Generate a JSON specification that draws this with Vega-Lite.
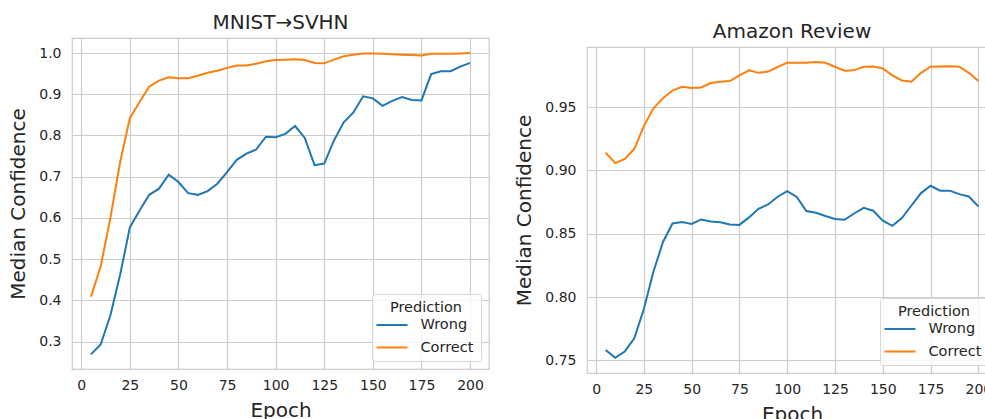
{
  "$schema": "https://vega.github.io/schema/vega-lite/v6.json",
  "padding": {"left": 8, "top": 12, "right": -13, "bottom": 0},
  "background": "white",
  "datasets": {
    "mnist": [
      {"epoch": 5, "pred": "Wrong", "conf": 0.269}, {"epoch": 10, "pred": "Wrong", "conf": 0.293},
      {"epoch": 15, "pred": "Wrong", "conf": 0.364}, {"epoch": 20, "pred": "Wrong", "conf": 0.462},
      {"epoch": 25, "pred": "Wrong", "conf": 0.577}, {"epoch": 30, "pred": "Wrong", "conf": 0.618},
      {"epoch": 35, "pred": "Wrong", "conf": 0.656}, {"epoch": 40, "pred": "Wrong", "conf": 0.671},
      {"epoch": 45, "pred": "Wrong", "conf": 0.705}, {"epoch": 50, "pred": "Wrong", "conf": 0.687},
      {"epoch": 55, "pred": "Wrong", "conf": 0.660}, {"epoch": 60, "pred": "Wrong", "conf": 0.656},
      {"epoch": 65, "pred": "Wrong", "conf": 0.665}, {"epoch": 70, "pred": "Wrong", "conf": 0.683},
      {"epoch": 75, "pred": "Wrong", "conf": 0.711}, {"epoch": 80, "pred": "Wrong", "conf": 0.741},
      {"epoch": 85, "pred": "Wrong", "conf": 0.756}, {"epoch": 90, "pred": "Wrong", "conf": 0.766},
      {"epoch": 95, "pred": "Wrong", "conf": 0.797}, {"epoch": 100, "pred": "Wrong", "conf": 0.796},
      {"epoch": 105, "pred": "Wrong", "conf": 0.804}, {"epoch": 110, "pred": "Wrong", "conf": 0.823},
      {"epoch": 115, "pred": "Wrong", "conf": 0.794}, {"epoch": 120, "pred": "Wrong", "conf": 0.728},
      {"epoch": 125, "pred": "Wrong", "conf": 0.732}, {"epoch": 130, "pred": "Wrong", "conf": 0.788},
      {"epoch": 135, "pred": "Wrong", "conf": 0.832}, {"epoch": 140, "pred": "Wrong", "conf": 0.856},
      {"epoch": 145, "pred": "Wrong", "conf": 0.895}, {"epoch": 150, "pred": "Wrong", "conf": 0.890},
      {"epoch": 155, "pred": "Wrong", "conf": 0.872}, {"epoch": 160, "pred": "Wrong", "conf": 0.884},
      {"epoch": 165, "pred": "Wrong", "conf": 0.893}, {"epoch": 170, "pred": "Wrong", "conf": 0.886},
      {"epoch": 175, "pred": "Wrong", "conf": 0.885}, {"epoch": 180, "pred": "Wrong", "conf": 0.949},
      {"epoch": 185, "pred": "Wrong", "conf": 0.956}, {"epoch": 190, "pred": "Wrong", "conf": 0.956},
      {"epoch": 195, "pred": "Wrong", "conf": 0.967}, {"epoch": 200, "pred": "Wrong", "conf": 0.976},
      {"epoch": 5, "pred": "Correct", "conf": 0.409}, {"epoch": 10, "pred": "Correct", "conf": 0.482},
      {"epoch": 15, "pred": "Correct", "conf": 0.600}, {"epoch": 20, "pred": "Correct", "conf": 0.735},
      {"epoch": 25, "pred": "Correct", "conf": 0.842}, {"epoch": 30, "pred": "Correct", "conf": 0.881},
      {"epoch": 35, "pred": "Correct", "conf": 0.919}, {"epoch": 40, "pred": "Correct", "conf": 0.933},
      {"epoch": 45, "pred": "Correct", "conf": 0.941}, {"epoch": 50, "pred": "Correct", "conf": 0.939},
      {"epoch": 55, "pred": "Correct", "conf": 0.939}, {"epoch": 60, "pred": "Correct", "conf": 0.945},
      {"epoch": 65, "pred": "Correct", "conf": 0.952}, {"epoch": 70, "pred": "Correct", "conf": 0.957},
      {"epoch": 75, "pred": "Correct", "conf": 0.964}, {"epoch": 80, "pred": "Correct", "conf": 0.970},
      {"epoch": 85, "pred": "Correct", "conf": 0.970}, {"epoch": 90, "pred": "Correct", "conf": 0.974},
      {"epoch": 95, "pred": "Correct", "conf": 0.980}, {"epoch": 100, "pred": "Correct", "conf": 0.983},
      {"epoch": 105, "pred": "Correct", "conf": 0.984}, {"epoch": 110, "pred": "Correct", "conf": 0.985},
      {"epoch": 115, "pred": "Correct", "conf": 0.983}, {"epoch": 120, "pred": "Correct", "conf": 0.976},
      {"epoch": 125, "pred": "Correct", "conf": 0.975}, {"epoch": 130, "pred": "Correct", "conf": 0.984},
      {"epoch": 135, "pred": "Correct", "conf": 0.992}, {"epoch": 140, "pred": "Correct", "conf": 0.996},
      {"epoch": 145, "pred": "Correct", "conf": 0.999}, {"epoch": 150, "pred": "Correct", "conf": 0.999},
      {"epoch": 155, "pred": "Correct", "conf": 0.998}, {"epoch": 160, "pred": "Correct", "conf": 0.997},
      {"epoch": 165, "pred": "Correct", "conf": 0.996}, {"epoch": 170, "pred": "Correct", "conf": 0.995},
      {"epoch": 175, "pred": "Correct", "conf": 0.994}, {"epoch": 180, "pred": "Correct", "conf": 0.998},
      {"epoch": 185, "pred": "Correct", "conf": 0.998}, {"epoch": 190, "pred": "Correct", "conf": 0.998},
      {"epoch": 195, "pred": "Correct", "conf": 0.999}, {"epoch": 200, "pred": "Correct", "conf": 1.0}
    ],
    "amazon": [
      {"epoch": 5, "pred": "Wrong", "conf": 0.7582}, {"epoch": 10, "pred": "Wrong", "conf": 0.7521},
      {"epoch": 15, "pred": "Wrong", "conf": 0.7571}, {"epoch": 20, "pred": "Wrong", "conf": 0.7674},
      {"epoch": 25, "pred": "Wrong", "conf": 0.7906}, {"epoch": 30, "pred": "Wrong", "conf": 0.8200},
      {"epoch": 35, "pred": "Wrong", "conf": 0.8435}, {"epoch": 40, "pred": "Wrong", "conf": 0.8581},
      {"epoch": 45, "pred": "Wrong", "conf": 0.8592}, {"epoch": 50, "pred": "Wrong", "conf": 0.8577},
      {"epoch": 55, "pred": "Wrong", "conf": 0.8613}, {"epoch": 60, "pred": "Wrong", "conf": 0.8597},
      {"epoch": 65, "pred": "Wrong", "conf": 0.8590}, {"epoch": 70, "pred": "Wrong", "conf": 0.8573},
      {"epoch": 75, "pred": "Wrong", "conf": 0.8570}, {"epoch": 80, "pred": "Wrong", "conf": 0.8629},
      {"epoch": 85, "pred": "Wrong", "conf": 0.8697}, {"epoch": 90, "pred": "Wrong", "conf": 0.8731},
      {"epoch": 95, "pred": "Wrong", "conf": 0.8792}, {"epoch": 100, "pred": "Wrong", "conf": 0.8837},
      {"epoch": 105, "pred": "Wrong", "conf": 0.8790}, {"epoch": 110, "pred": "Wrong", "conf": 0.8679},
      {"epoch": 115, "pred": "Wrong", "conf": 0.8666}, {"epoch": 120, "pred": "Wrong", "conf": 0.8640},
      {"epoch": 125, "pred": "Wrong", "conf": 0.8616}, {"epoch": 130, "pred": "Wrong", "conf": 0.8610},
      {"epoch": 135, "pred": "Wrong", "conf": 0.8660}, {"epoch": 140, "pred": "Wrong", "conf": 0.8705},
      {"epoch": 145, "pred": "Wrong", "conf": 0.8682}, {"epoch": 150, "pred": "Wrong", "conf": 0.8603},
      {"epoch": 155, "pred": "Wrong", "conf": 0.8563}, {"epoch": 160, "pred": "Wrong", "conf": 0.8624},
      {"epoch": 165, "pred": "Wrong", "conf": 0.8723}, {"epoch": 170, "pred": "Wrong", "conf": 0.8821},
      {"epoch": 175, "pred": "Wrong", "conf": 0.8879}, {"epoch": 180, "pred": "Wrong", "conf": 0.8840},
      {"epoch": 185, "pred": "Wrong", "conf": 0.8840}, {"epoch": 190, "pred": "Wrong", "conf": 0.8813},
      {"epoch": 195, "pred": "Wrong", "conf": 0.8794}, {"epoch": 200, "pred": "Wrong", "conf": 0.8716},
      {"epoch": 5, "pred": "Correct", "conf": 0.9140}, {"epoch": 10, "pred": "Correct", "conf": 0.9058},
      {"epoch": 15, "pred": "Correct", "conf": 0.9090}, {"epoch": 20, "pred": "Correct", "conf": 0.9170},
      {"epoch": 25, "pred": "Correct", "conf": 0.9350}, {"epoch": 30, "pred": "Correct", "conf": 0.9490},
      {"epoch": 35, "pred": "Correct", "conf": 0.9570}, {"epoch": 40, "pred": "Correct", "conf": 0.9630},
      {"epoch": 45, "pred": "Correct", "conf": 0.9660}, {"epoch": 50, "pred": "Correct", "conf": 0.9650},
      {"epoch": 55, "pred": "Correct", "conf": 0.9655}, {"epoch": 60, "pred": "Correct", "conf": 0.9690},
      {"epoch": 65, "pred": "Correct", "conf": 0.9700}, {"epoch": 70, "pred": "Correct", "conf": 0.9705},
      {"epoch": 75, "pred": "Correct", "conf": 0.9750}, {"epoch": 80, "pred": "Correct", "conf": 0.9790},
      {"epoch": 85, "pred": "Correct", "conf": 0.9770}, {"epoch": 90, "pred": "Correct", "conf": 0.9780},
      {"epoch": 95, "pred": "Correct", "conf": 0.9816}, {"epoch": 100, "pred": "Correct", "conf": 0.9850},
      {"epoch": 105, "pred": "Correct", "conf": 0.9850}, {"epoch": 110, "pred": "Correct", "conf": 0.9850},
      {"epoch": 115, "pred": "Correct", "conf": 0.9855}, {"epoch": 120, "pred": "Correct", "conf": 0.9850},
      {"epoch": 125, "pred": "Correct", "conf": 0.9818}, {"epoch": 130, "pred": "Correct", "conf": 0.9787},
      {"epoch": 135, "pred": "Correct", "conf": 0.9790}, {"epoch": 140, "pred": "Correct", "conf": 0.9818},
      {"epoch": 145, "pred": "Correct", "conf": 0.9820}, {"epoch": 150, "pred": "Correct", "conf": 0.9805},
      {"epoch": 155, "pred": "Correct", "conf": 0.9750}, {"epoch": 160, "pred": "Correct", "conf": 0.9710},
      {"epoch": 165, "pred": "Correct", "conf": 0.9700}, {"epoch": 170, "pred": "Correct", "conf": 0.9770},
      {"epoch": 175, "pred": "Correct", "conf": 0.9818}, {"epoch": 180, "pred": "Correct", "conf": 0.9820},
      {"epoch": 185, "pred": "Correct", "conf": 0.9823}, {"epoch": 190, "pred": "Correct", "conf": 0.9818},
      {"epoch": 195, "pred": "Correct", "conf": 0.9770}, {"epoch": 200, "pred": "Correct", "conf": 0.9705}
    ]
  },
  "spacing": 24,
  "resolve": {"scale": {"color": "independent"}, "legend": {"color": "independent"}},
  "hconcat": [
    {
      "title": {"text": "MNIST→SVHN"},
      "width": 417,
      "height": 331,
      "data": {"name": "mnist"},
      "mark": {"type": "line", "strokeWidth": 2},
      "encoding": {
        "x": {"field": "epoch", "type": "quantitative", "title": "Epoch",
              "scale": {"domain": [-4.75, 209.75], "nice": false, "zero": false},
              "axis": {"values": [0, 25, 50, 75, 100, 125, 150, 175, 200]}},
        "y": {"field": "conf", "type": "quantitative", "title": "Median Confidence",
              "scale": {"domain": [0.2335, 1.0365], "nice": false, "zero": false},
              "axis": {"values": [0.3, 0.4, 0.5, 0.6, 0.7, 0.8, 0.9, 1.0], "format": ".1f"}},
        "color": {"field": "pred", "type": "nominal", "title": "Prediction",
                  "scale": {"domain": ["Wrong", "Correct"], "range": ["#1f77b4", "#ff7f0e"]}}
      }
    },
    {
      "spacing": -18,
      "resolve": {"scale": {"color": "independent"}, "legend": {"color": "independent"}},
      "vconcat": [
        {
          "width": 1,
          "height": 1,
          "view": {"stroke": null},
          "data": {"values": []},
          "mark": {"type": "point", "opacity": 0},
          "encoding": {}
        },
        {
          "title": {"text": "Amazon Review"},
          "width": 410,
          "height": 326,
          "data": {"name": "amazon"},
          "mark": {"type": "line", "strokeWidth": 2},
          "encoding": {
            "x": {"field": "epoch", "type": "quantitative", "title": "Epoch",
                  "scale": {"domain": [-4.75, 209.75], "nice": false, "zero": false},
                  "axis": {"values": [0, 25, 50, 75, 100, 125, 150, 175, 200]}},
            "y": {"field": "conf", "type": "quantitative", "title": "Median Confidence",
                  "scale": {"domain": [0.7401, 0.9974], "nice": false, "zero": false},
                  "axis": {"values": [0.75, 0.8, 0.85, 0.9, 0.95], "format": ".2f"}},
            "color": {"field": "pred", "type": "nominal", "title": "Prediction",
                      "scale": {"domain": ["Wrong", "Correct"], "range": ["#1f77b4", "#ff7f0e"]}}
          }
        }
      ]
    }
  ],
  "config": {
    "font": "DejaVu Sans",
    "view": {"stroke": "#cccccc", "strokeWidth": 1.25},
    "title": {"fontSize": 20, "fontWeight": "normal", "color": "#262626", "offset": 5, "baseline": "bottom", "anchor": "middle"},
    "axis": {
      "domain": false, "ticks": false, "grid": true, "gridColor": "#cccccc", "gridWidth": 1.2,
      "labelFontSize": 14, "labelColor": "#262626",
      "labelFlush": false, "labelOverlap": false, "labelBound": false,
      "titleFontSize": 20, "titleFontWeight": "normal", "titleColor": "#262626"
    },
    "axisX": {"labelPadding": 9, "titlePadding": 8},
    "axisY": {"labelPadding": 11, "titlePadding": 10},
    "legend": {
      "orient": "bottom-right", "offset": 8,
      "fillColor": "rgba(255,255,255,0.8)", "strokeColor": "#d6d6d6", "cornerRadius": 3, "padding": 7,
      "titleFontSize": 14.5, "titleFontWeight": "normal", "titleColor": "#262626", "titleAnchor": "middle", "titlePadding": 0.5,
      "labelFontSize": 14.5, "labelColor": "#262626", "labelOffset": 19.5,
      "symbolType": "M-2,0L2,0", "symbolSize": 240, "symbolStrokeWidth": 2, "symbolOffset": 4,
      "rowPadding": 6.5
    }
  }
}
